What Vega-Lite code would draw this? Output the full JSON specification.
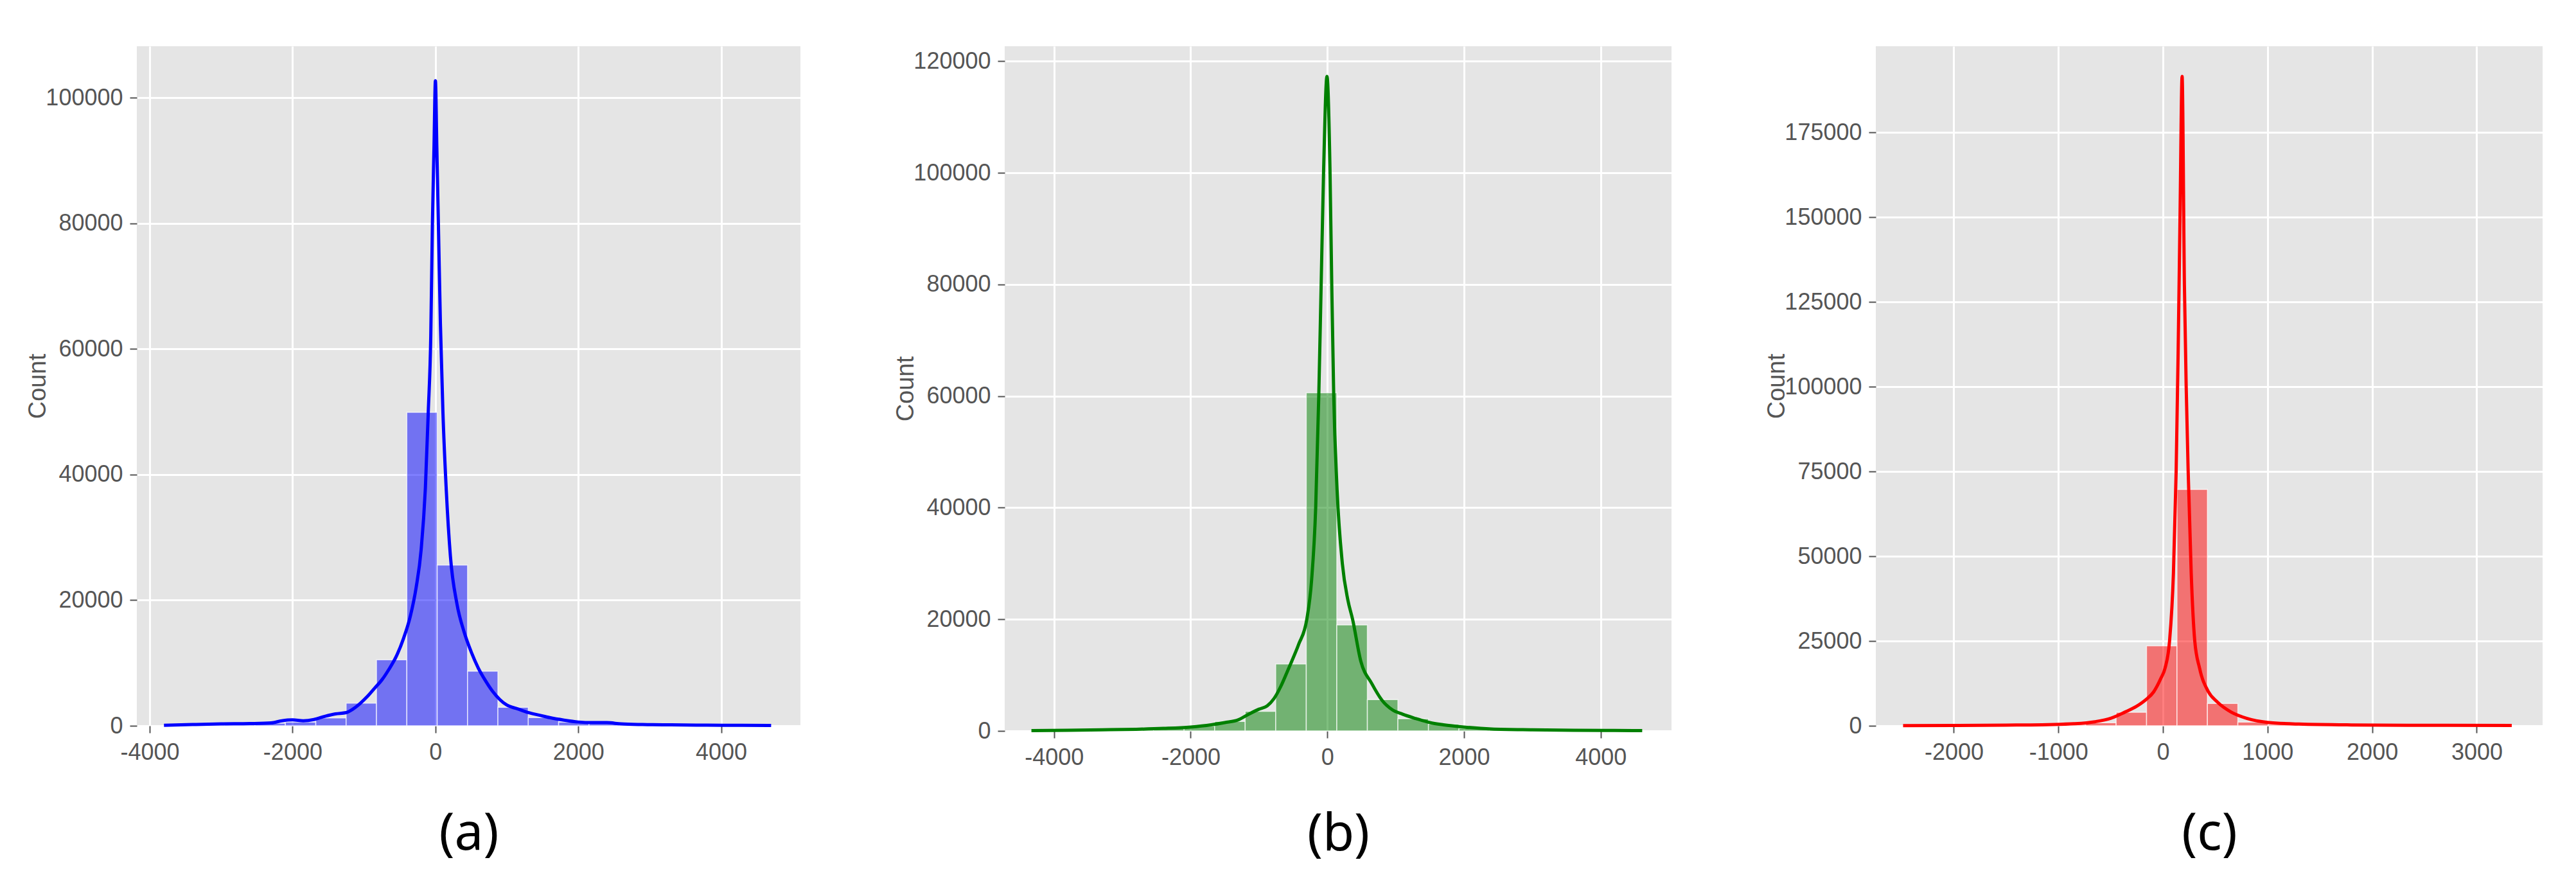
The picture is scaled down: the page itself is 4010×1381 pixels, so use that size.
{
  "$schema": "https://vega.github.io/schema/vega-lite/v6.json",
  "background": "white",
  "padding": {"left": 40, "top": 72, "right": 0, "bottom": 40},
  "bounds": "flush",
  "spacing": 318,
  "datasets": {
    "a_bins": [
      {"x": -3800, "x2": -3375, "count": 60},
      {"x": -3375, "x2": -2950, "count": 150},
      {"x": -2950, "x2": -2525, "count": 250},
      {"x": -2525, "x2": -2100, "count": 400},
      {"x": -2100, "x2": -1675, "count": 600},
      {"x": -1675, "x2": -1250, "count": 1250},
      {"x": -1250, "x2": -825, "count": 3600},
      {"x": -825, "x2": -400, "count": 10500},
      {"x": -400, "x2": 25, "count": 49900},
      {"x": 25, "x2": 450, "count": 25600},
      {"x": 450, "x2": 875, "count": 8700},
      {"x": 875, "x2": 1300, "count": 2950},
      {"x": 1300, "x2": 1725, "count": 1300},
      {"x": 1725, "x2": 2150, "count": 600},
      {"x": 2150, "x2": 2575, "count": 350},
      {"x": 2575, "x2": 3000, "count": 150},
      {"x": 3000, "x2": 3425, "count": 80},
      {"x": 3425, "x2": 3850, "count": 40},
      {"x": 3850, "x2": 4275, "count": 25},
      {"x": 4275, "x2": 4700, "count": 15}
    ],
    "a_kde": [
      {"x": -3800, "count": 80}, {"x": -3400, "count": 200}, {"x": -3000, "count": 300},
      {"x": -2600, "count": 350}, {"x": -2300, "count": 450}, {"x": -2150, "count": 800},
      {"x": -2000, "count": 950}, {"x": -1850, "count": 800}, {"x": -1700, "count": 1000},
      {"x": -1550, "count": 1500}, {"x": -1400, "count": 1900}, {"x": -1250, "count": 2100},
      {"x": -1150, "count": 2700}, {"x": -1050, "count": 3600}, {"x": -950, "count": 4700},
      {"x": -850, "count": 6000}, {"x": -750, "count": 7300}, {"x": -650, "count": 9000},
      {"x": -550, "count": 11000}, {"x": -450, "count": 13800}, {"x": -350, "count": 17500},
      {"x": -270, "count": 22000}, {"x": -200, "count": 28000}, {"x": -140, "count": 38000},
      {"x": -100, "count": 50000}, {"x": -65, "count": 62000}, {"x": -42, "count": 80000},
      {"x": -20, "count": 92000}, {"x": 0, "count": 102700}, {"x": 20, "count": 92000},
      {"x": 45, "count": 78000}, {"x": 70, "count": 64000}, {"x": 105, "count": 50000},
      {"x": 150, "count": 38000}, {"x": 210, "count": 27000}, {"x": 300, "count": 19500},
      {"x": 400, "count": 15000}, {"x": 500, "count": 11800}, {"x": 600, "count": 9200},
      {"x": 700, "count": 7200}, {"x": 800, "count": 5500}, {"x": 900, "count": 4200},
      {"x": 1000, "count": 3300}, {"x": 1150, "count": 2700}, {"x": 1300, "count": 2100},
      {"x": 1450, "count": 1700}, {"x": 1600, "count": 1300}, {"x": 1800, "count": 900},
      {"x": 2000, "count": 600}, {"x": 2200, "count": 500}, {"x": 2400, "count": 500},
      {"x": 2600, "count": 300}, {"x": 2900, "count": 200}, {"x": 3300, "count": 150},
      {"x": 3800, "count": 100}, {"x": 4300, "count": 80}, {"x": 4700, "count": 60}
    ],
    "b_bins": [
      {"x": -4330, "x2": -3883, "count": 40},
      {"x": -3883, "x2": -3436, "count": 80},
      {"x": -3436, "x2": -2989, "count": 150},
      {"x": -2989, "x2": -2542, "count": 300},
      {"x": -2542, "x2": -2096, "count": 500},
      {"x": -2096, "x2": -1649, "count": 850},
      {"x": -1649, "x2": -1202, "count": 1700},
      {"x": -1202, "x2": -755, "count": 3500},
      {"x": -755, "x2": -308, "count": 12000},
      {"x": -308, "x2": 139, "count": 60600},
      {"x": 139, "x2": 586, "count": 19000},
      {"x": 586, "x2": 1033, "count": 5600},
      {"x": 1033, "x2": 1480, "count": 2200},
      {"x": 1480, "x2": 1926, "count": 1200},
      {"x": 1926, "x2": 2373, "count": 450},
      {"x": 2373, "x2": 2820, "count": 200},
      {"x": 2820, "x2": 3267, "count": 100},
      {"x": 3267, "x2": 3714, "count": 60},
      {"x": 3714, "x2": 4161, "count": 30},
      {"x": 4161, "x2": 4608, "count": 20}
    ],
    "b_kde": [
      {"x": -4330, "count": 60}, {"x": -3800, "count": 120}, {"x": -3300, "count": 200},
      {"x": -2800, "count": 300}, {"x": -2400, "count": 450}, {"x": -2000, "count": 700},
      {"x": -1700, "count": 1100}, {"x": -1500, "count": 1500}, {"x": -1300, "count": 2000},
      {"x": -1150, "count": 3000}, {"x": -1000, "count": 3900}, {"x": -880, "count": 4500},
      {"x": -780, "count": 5800}, {"x": -680, "count": 8000}, {"x": -590, "count": 10500},
      {"x": -520, "count": 12500}, {"x": -420, "count": 15500}, {"x": -300, "count": 20000},
      {"x": -230, "count": 27000}, {"x": -170, "count": 40000}, {"x": -125, "count": 60000},
      {"x": -90, "count": 80000}, {"x": -55, "count": 100000}, {"x": -5, "count": 117300},
      {"x": 40, "count": 100000}, {"x": 65, "count": 80000}, {"x": 94, "count": 60000},
      {"x": 140, "count": 44000}, {"x": 220, "count": 30000}, {"x": 300, "count": 23500},
      {"x": 370, "count": 20000}, {"x": 490, "count": 12500}, {"x": 650, "count": 8500},
      {"x": 800, "count": 5500}, {"x": 950, "count": 3800}, {"x": 1100, "count": 3000},
      {"x": 1300, "count": 2200}, {"x": 1500, "count": 1500}, {"x": 1700, "count": 1100},
      {"x": 2000, "count": 700}, {"x": 2400, "count": 350}, {"x": 3000, "count": 200},
      {"x": 3600, "count": 120}, {"x": 4200, "count": 80}, {"x": 4608, "count": 60}
    ],
    "c_bins": [
      {"x": -2485, "x2": -2194, "count": 30},
      {"x": -2194, "x2": -1903, "count": 40},
      {"x": -1903, "x2": -1612, "count": 60},
      {"x": -1612, "x2": -1321, "count": 100},
      {"x": -1321, "x2": -1030, "count": 150},
      {"x": -1030, "x2": -739, "count": 300},
      {"x": -739, "x2": -448, "count": 900},
      {"x": -448, "x2": -157, "count": 4000},
      {"x": -157, "x2": 134, "count": 23600},
      {"x": 134, "x2": 425, "count": 69700},
      {"x": 425, "x2": 716, "count": 6600},
      {"x": 716, "x2": 1007, "count": 1100},
      {"x": 1007, "x2": 1298, "count": 400},
      {"x": 1298, "x2": 1589, "count": 200},
      {"x": 1589, "x2": 1880, "count": 100},
      {"x": 1880, "x2": 2171, "count": 60},
      {"x": 2171, "x2": 2462, "count": 40},
      {"x": 2462, "x2": 2753, "count": 30},
      {"x": 2753, "x2": 3044, "count": 20},
      {"x": 3044, "x2": 3335, "count": 20}
    ],
    "c_kde": [
      {"x": -2485, "count": 60}, {"x": -2000, "count": 100}, {"x": -1500, "count": 200},
      {"x": -1100, "count": 350}, {"x": -850, "count": 600}, {"x": -650, "count": 1200},
      {"x": -500, "count": 2200}, {"x": -366, "count": 4000}, {"x": -250, "count": 5800},
      {"x": -160, "count": 7800}, {"x": -89, "count": 10000}, {"x": -20, "count": 14000},
      {"x": 20, "count": 17000}, {"x": 63, "count": 25000}, {"x": 100, "count": 45000},
      {"x": 126, "count": 75000}, {"x": 145, "count": 110000}, {"x": 163, "count": 150000},
      {"x": 183, "count": 191500}, {"x": 205, "count": 130000}, {"x": 222, "count": 100000},
      {"x": 241, "count": 75000}, {"x": 270, "count": 45000}, {"x": 304, "count": 25000},
      {"x": 350, "count": 17000}, {"x": 435, "count": 10000}, {"x": 520, "count": 7000},
      {"x": 654, "count": 4000}, {"x": 800, "count": 2200}, {"x": 1000, "count": 1000},
      {"x": 1300, "count": 500}, {"x": 1800, "count": 250}, {"x": 2500, "count": 150},
      {"x": 3335, "count": 100}
    ]
  },
  "config": {
    "view": {"fill": "#E5E5E5", "stroke": null},
    "axis": {
      "domain": false, "grid": true, "gridColor": "white", "gridWidth": 3,
      "tickColor": "#555555", "tickWidth": 2, "tickSize": 11,
      "labelColor": "#555555", "labelFont": "Liberation Sans Narrow, Liberation Sans",
      "labelFontSize": 36, "labelPadding": 11, "labelOverlap": false, "labelFlush": false,
      "titleFontWeight": "normal", "labelExpr": "datum.value + ''"
    },
    "axisY": {"minExtent": 124, "maxExtent": 124, "titleFont": "Liberation Sans", "titleFontSize": 38, "titleColor": "#555555", "titlePadding": 11},
    "axisX": {"minExtent": 60, "maxExtent": 60, "titleFont": "Noto Sans", "titleFontSize": 80, "titleColor": "black", "titleBaseline": "alphabetic", "titlePadding": 132, "labelPadding": 13}
  },
  "hconcat": [
    {
      "width": 1033, "height": 1058,
      "layer": [
        {
          "data": {"name": "a_bins"},
          "mark": {"type": "rect", "fill": "blue", "fillOpacity": 0.5, "stroke": "white", "strokeWidth": 1.5, "strokeOpacity": 0.7},
          "encoding": {
            "x": {"field": "x", "type": "quantitative", "title": "(a)", "scale": {"domain": [-4180, 5110], "nice": false, "zero": false}, "axis": {"values": [-4000, -2000, 0, 2000, 4000]}},
            "x2": {"field": "x2"},
            "y": {"field": "count", "type": "quantitative", "title": "Count", "scale": {"domain": [0, 108200], "nice": false}, "axis": {"values": [0, 20000, 40000, 60000, 80000, 100000]}}
          }
        },
        {
          "data": {"name": "a_kde"},
          "mark": {"type": "line", "color": "blue", "strokeWidth": 5, "interpolate": "monotone"},
          "encoding": {
            "x": {"field": "x", "type": "quantitative", "title": "(a)"},
            "y": {"field": "count", "type": "quantitative", "title": "Count"}
          }
        }
      ]
    },
    {
      "width": 1038, "height": 1066,
      "layer": [
        {
          "data": {"name": "b_bins"},
          "mark": {"type": "rect", "fill": "green", "fillOpacity": 0.5, "stroke": "white", "strokeWidth": 1.5, "strokeOpacity": 0.7},
          "encoding": {
            "x": {"field": "x", "type": "quantitative", "title": "(b)", "scale": {"domain": [-4721, 5037], "nice": false, "zero": false}, "axis": {"values": [-4000, -2000, 0, 2000, 4000], "titlePadding": 125}},
            "x2": {"field": "x2"},
            "y": {"field": "count", "type": "quantitative", "title": "Count", "scale": {"domain": [0, 122700], "nice": false}, "axis": {"values": [0, 20000, 40000, 60000, 80000, 100000, 120000]}}
          }
        },
        {
          "data": {"name": "b_kde"},
          "mark": {"type": "line", "color": "green", "strokeWidth": 5, "interpolate": "monotone"},
          "encoding": {
            "x": {"field": "x", "type": "quantitative", "title": "(b)"},
            "y": {"field": "count", "type": "quantitative", "title": "Count"}
          }
        }
      ]
    },
    {
      "width": 1038, "height": 1058,
      "layer": [
        {
          "data": {"name": "c_bins"},
          "mark": {"type": "rect", "fill": "red", "fillOpacity": 0.5, "stroke": "white", "strokeWidth": 1.5, "strokeOpacity": 0.7},
          "encoding": {
            "x": {"field": "x", "type": "quantitative", "title": "(c)", "scale": {"domain": [-2746, 3630], "nice": false, "zero": false}, "axis": {"values": [-2000, -1000, 0, 1000, 2000, 3000]}},
            "x2": {"field": "x2"},
            "y": {"field": "count", "type": "quantitative", "title": "Count", "scale": {"domain": [0, 200400], "nice": false}, "axis": {"values": [0, 25000, 50000, 75000, 100000, 125000, 150000, 175000]}}
          }
        },
        {
          "data": {"name": "c_kde"},
          "mark": {"type": "line", "color": "red", "strokeWidth": 5, "interpolate": "monotone"},
          "encoding": {
            "x": {"field": "x", "type": "quantitative", "title": "(c)"},
            "y": {"field": "count", "type": "quantitative", "title": "Count"}
          }
        }
      ]
    }
  ]
}
